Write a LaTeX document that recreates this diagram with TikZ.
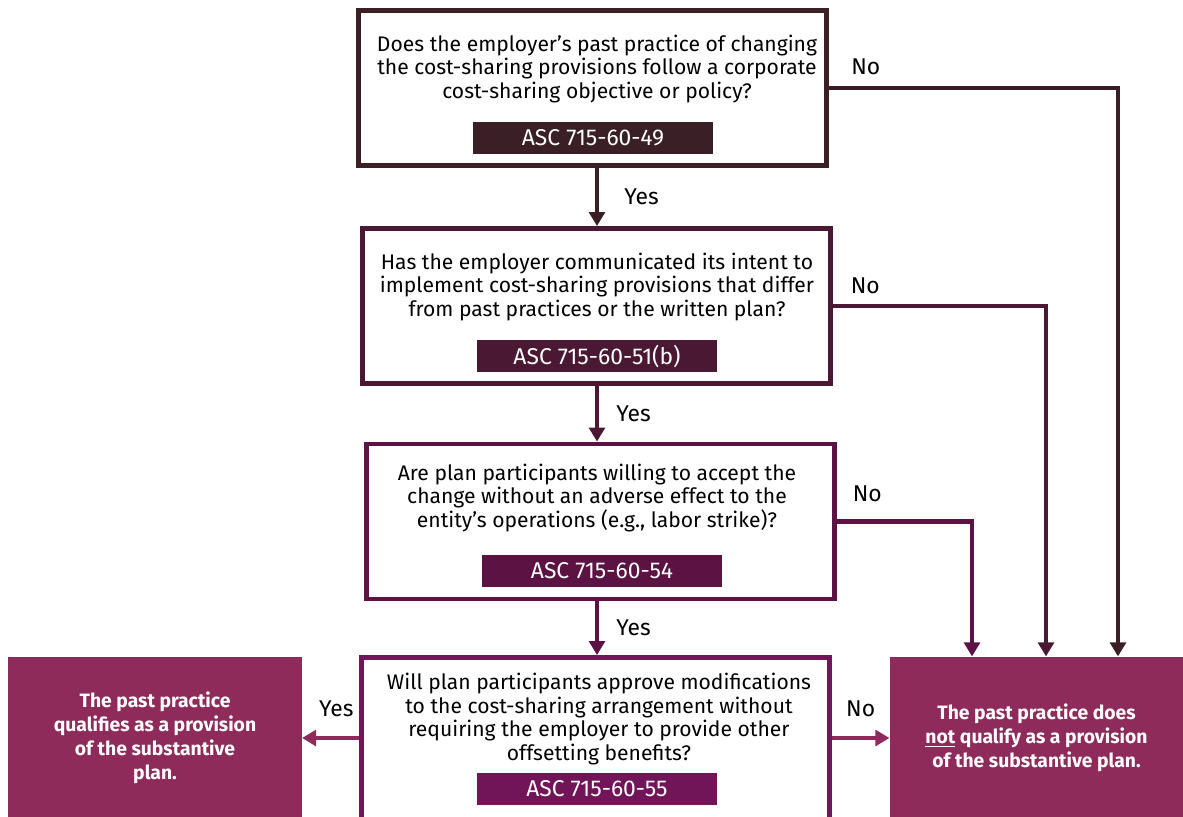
\documentclass[tikz,border=0pt]{standalone}
\usepackage{fontspec}
\setmainfont{Fira Sans}
\usetikzlibrary{arrows.meta, positioning}

\definecolor{stepone}{HTML}{3A1F26}
\definecolor{steptwo}{HTML}{4A1832}
\definecolor{stepthree}{HTML}{5C1242}
\definecolor{stepfour}{HTML}{711558}
\definecolor{resfill}{HTML}{8F2B5A}

\begin{document}
\begin{tikzpicture}[
    x=0.02cm, y=-0.02cm,
    every node/.style={font=\fontsize{12}{13.6}\selectfont},
    qbox/.style={rectangle, draw, line width=2.8pt, fill=white,
                 minimum width=9.36cm, minimum height=3.1cm},
    qtext/.style={align=center, inner sep=0pt},
    tag/.style={rectangle, minimum width=4.8cm, minimum height=0.64cm,
                inner sep=0pt, text=white, font=\fontsize{13}{14}\selectfont},
    result/.style={rectangle, fill=resfill, text=white, align=center,
                   minimum width=5.87cm, minimum height=3.25cm,
                   font=\fontsize{11}{13.6}\selectfont\bfseries},
    arr/.style={-{Triangle[length=8pt, width=9pt]}, line width=2.8pt},
    lbl/.style={inner sep=0pt, text=black, font=\fontsize{13}{14}\selectfont},
]
\clip (0,0) rectangle (1183,816);

% question boxes
\node[qbox, draw=stepone]   (q1) at (592.5,88)  {};
\node[qbox, draw=steptwo]   (q2) at (596.5,306) {};
\node[qbox, draw=stepthree] (q3) at (600.5,521.5) {};
\node[qbox, draw=stepfour, minimum height=3.3cm] (q4) at (595.5,740) {};

\node[qtext] (t1) at (597,69)  {Does the employer’s past practice of changing\\the cost-sharing provisions follow a corporate\\cost-sharing objective or policy?};
\node[qtext] (t2) at (597,287) {Has the employer communicated its intent to\\implement cost-sharing provisions that differ\\from past practices or the written plan?};
\node[qtext] (t3) at (597,498) {Are plan participants willing to accept the\\change without an adverse effect to the\\entity’s operations (e.g., labor strike)?};
\node[qtext] (t4) at (599,719) {Will plan participants approve modifications\\to the cost-sharing arrangement without\\requiring the employer to provide other\\offsetting benefits?};

\node[tag, fill=stepone]   (a1) at (593,138) {ASC 715-60-49};
\node[tag, fill=steptwo]   (a2) at (597,356) {ASC 715-60-51(b)};
\node[tag, fill=stepthree] (a3) at (602,571) {ASC 715-60-54};
\node[tag, fill=stepfour]  (a4) at (597,789) {ASC 715-60-55};

% outcomes
\node[result] (yesres) at (155,738)    {The past practice\\qualifies as a provision\\of the substantive\\plan.};
\node[result] (nores)  at (1036.5,738) {The past practice does\\\underline{not} qualify as a provision\\of the substantive plan.};

% yes path
\draw[arr, stepone]   (q1.south -| t1) -- node[lbl, right=0.5cm]  {Yes} (q2.north -| t1);
\draw[arr, steptwo]   (q2.south -| t1) -- node[lbl, right=0.34cm] {Yes} (q3.north -| t1);
\draw[arr, stepthree] (q3.south -| t1) -- node[lbl, right=0.34cm] {Yes} (q4.north -| t1);
\draw[arr, resfill]   (q4.west |- yesres) -- node[lbl, above=0.38cm, pos=0.4] {Yes} (yesres.east);

% no path
\draw[arr, stepone]   (q1.east) node[lbl, above right=0.22cm and 0.4cm] {No}
    -| ([xshift=1.63cm]nores.north);
\draw[arr, steptwo]   (q2.east) node[lbl, above right=0.2cm and 0.31cm] {No}
    -| ([xshift=0.19cm]nores.north);
\draw[arr, stepthree] (q3.east) node[lbl, above right=0.34cm and 0.27cm] {No}
    -| ([xshift=-1.29cm]nores.north);
\draw[arr, resfill]   (q4.east |- nores) -- node[lbl, above=0.38cm] {No} (nores.west);

\end{tikzpicture}
\end{document}
